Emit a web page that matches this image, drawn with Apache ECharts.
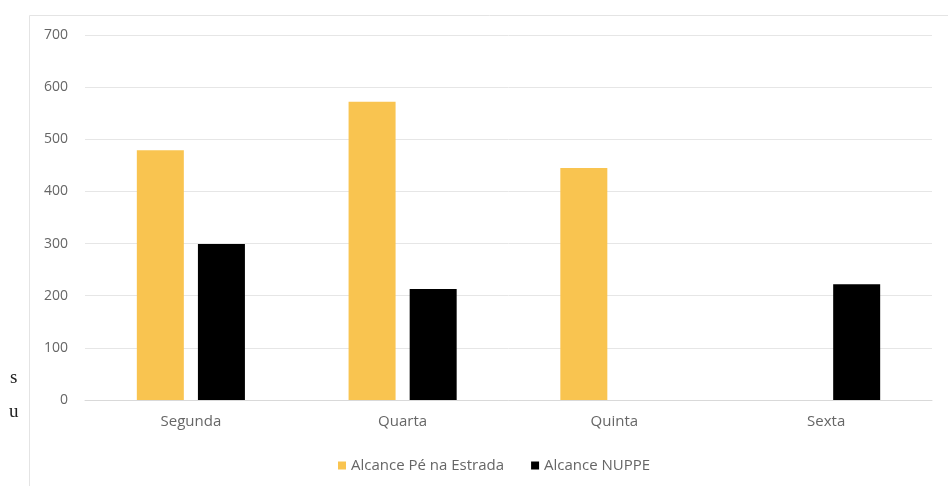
<!DOCTYPE html>
<html>
<head>
<meta charset="utf-8">
<script src="https://cdn.jsdelivr.net/npm/echarts@6/dist/echarts.min.js"></script>
<style>
html,body{margin:0;padding:0;background:#fff;}
#c{width:948px;height:486px;}
</style>
</head>
<body>
<div id="c"></div>
<script>
var categories = ['Segunda', 'Quarta', 'Quinta', 'Sexta'];
var seriesNames = ['Alcance Pé na Estrada', 'Alcance NUPPE'];
var peNaEstrada = [479, 572, 445, null];
var nuppe = [299, 213, null, 222];
var yTicks = { min: 0, max: 700, interval: 100 };

var chart = echarts.init(document.getElementById('c'), null, { renderer: 'canvas' });
var font = '"Open Sans", "Liberation Sans", sans-serif';
chart.setOption({
  animation: false,
  backgroundColor: '#ffffff',
  graphic: [
    { type: 'rect', shape: { x: 29.5, y: 15.5, width: 960, height: 500 },
      style: { fill: 'none', stroke: '#e4e4e4', lineWidth: 1 }, z: -1 },
    { type: 'text', left: 10, top: 369, style: { text: 's', font: '19px "Liberation Serif", "DejaVu Serif", serif', fill: '#222' } },
    { type: 'text', left: 9, top: 403, style: { text: 'u', font: '19px "Liberation Serif", "DejaVu Serif", serif', fill: '#222' } }
  ],
  grid: { left: 85, top: 35, width: 847, height: 365, containLabel: false },
  legend: {
    data: seriesNames,
    left: 333, top: 453,
    itemWidth: 8, itemHeight: 8, itemGap: 27,
    icon: 'rect',
    textStyle: { color: '#666666', fontSize: 15, fontFamily: font }
  },
  xAxis: {
    type: 'category', data: categories,
    axisLine: { show: true, lineStyle: { color: '#d9d9d9' } },
    axisTick: { show: false },
    axisLabel: { color: '#666666', fontSize: 15, fontFamily: font, margin: 14 }
  },
  yAxis: {
    type: 'value', min: yTicks.min, max: yTicks.max, interval: yTicks.interval,
    axisLine: { show: false }, axisTick: { show: false },
    axisLabel: { color: '#666666', fontSize: 14, fontFamily: font, margin: 17 },
    splitLine: { lineStyle: { color: '#e6e6e6', width: 1 } }
  },
  series: [
    { name: seriesNames[0], type: 'bar', data: peNaEstrada, barWidth: 47, barGap: '30%',
      itemStyle: { color: '#F9C450' } },
    { name: seriesNames[1], type: 'bar', data: nuppe, barWidth: 47,
      itemStyle: { color: '#000000' } }
  ]
});
</script>
</body>
</html>
